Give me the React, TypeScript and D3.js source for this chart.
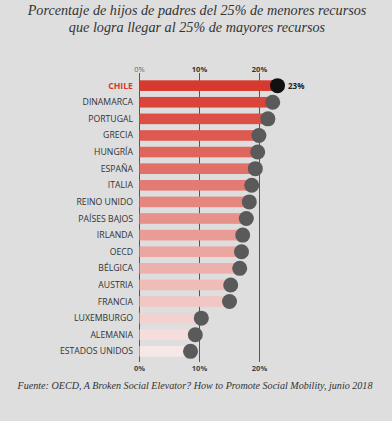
import React from "react";
import * as d3 from "d3";

const countries = [
  "CHILE", "DINAMARCA", "PORTUGAL", "GRECIA", "HUNGRÍA", "ESPAÑA", "ITALIA",
  "REINO UNIDO", "PAÍSES BAJOS", "IRLANDA", "OECD", "BÉLGICA", "AUSTRIA",
  "FRANCIA", "LUXEMBURGO", "ALEMANIA", "ESTADOS UNIDOS",
];
const values = [23, 22.2, 21.4, 19.9, 19.7, 19.3, 18.7, 18.3, 17.8, 17.2, 17.0, 16.7, 15.2, 15.0, 10.3, 9.3, 8.5];
const ticks = [0, 10, 20];
const titleLines = [
  "Porcentaje de hijos de padres del 25% de menores recursos",
  "que logra llegar al 25% de mayores recursos",
];
const source = "Fuente: OECD, A Broken Social Elevator? How to Promote Social Mobility, junio 2018";

export default function App() {
  const W = 392, H = 421;
  const x = d3.scaleLinear().domain([0, 10]).range([139.5, 199.5]);
  const y = d3.scaleBand<string>().domain(countries).range([77, 360]).paddingInner(0.36).paddingOuter(0.2);
  const color = d3.scaleLinear<string>().domain([0, countries.length - 1]).range(["#d8392f", "#f6e8e6"]).interpolate(d3.interpolateRgb);
  const bw = y.bandwidth();
  return (
    <svg width={W} height={H} style={{ position: "absolute", left: 0, top: 0, background: "#dedede" }}>
      <rect x={0} y={0} width={W} height={H} fill="#dedede" />
      {titleLines.map((t, i) => (
        <text key={i} x={197} y={15 + i * 17} textAnchor="middle" fontFamily="'Liberation Serif', serif" fontStyle="italic" fontSize={14.2} fill="#333">{t}</text>
      ))}
      {ticks.map((t) => (
        <g key={t}>
          <line x1={x(t)} x2={x(t)} y1={73} y2={362} stroke="#555" strokeWidth={1} />
          <text x={x(t)} y={72} textAnchor="middle" fontFamily="'Open Sans', sans-serif" fontSize={7.5} fontWeight={t === 0 ? 400 : 700} fill={t === 0 ? "#666" : "#333"}>{t}%</text>
          <text x={x(t)} y={371} textAnchor="middle" fontFamily="'Open Sans', sans-serif" fontSize={7.5} fontWeight={700} fill="#444">{t}%</text>
        </g>
      ))}
      {countries.map((c, i) => {
        const yc = (y(c) as number) + bw / 2;
        return (
          <g key={c}>
            <rect x={x(0)} y={y(c)} width={x(values[i]) - x(0)} height={bw} fill={color(i)} />
            <text x={133} y={yc + 3} textAnchor="end" fontFamily="'Open Sans', sans-serif" fontSize={8.7} fontWeight={i === 0 ? 700 : 400} fill={i === 0 ? "#d8392f" : "#333"}>{c}</text>
            <circle cx={x(values[i])} cy={yc} r={7.5} fill={i === 0 ? "#111" : "#5a5a5a"} />
            {i === 0 && (
              <text x={288} y={yc + 3} fontFamily="'Open Sans', sans-serif" fontSize={8} fontWeight={700} fill="#222">{values[i]}%</text>
            )}
          </g>
        );
      })}
      <text x={195} y={389} textAnchor="middle" fontFamily="'Liberation Serif', serif" fontStyle="italic" fontSize={10.1} fill="#333">{source}</text>
    </svg>
  );
}
